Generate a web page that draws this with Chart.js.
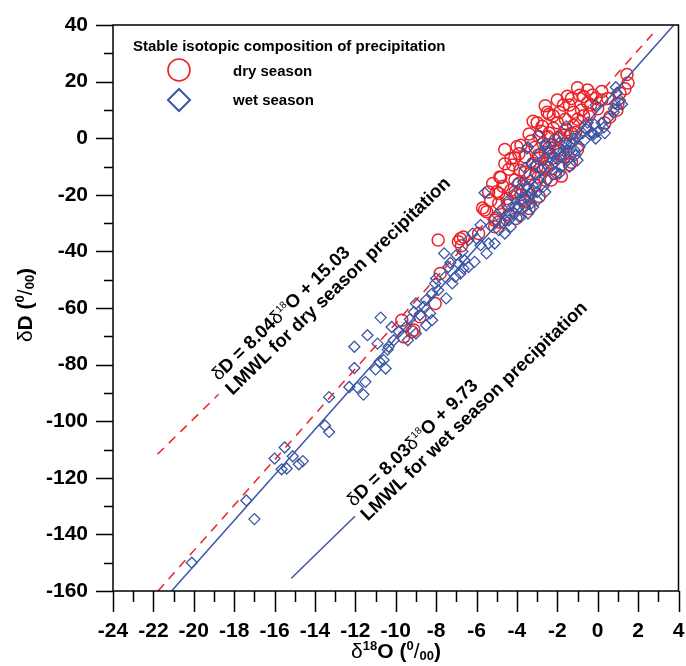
<!DOCTYPE html>
<html><head><meta charset="utf-8">
<script src="https://cdn.jsdelivr.net/npm/chart.js@4.4.1/dist/chart.umd.min.js"></script>
<style>html,body{margin:0;padding:0;background:#fff}#wrap{width:686px;height:666px;position:relative}</style>
</head><body><div id="wrap"><canvas id="c"></canvas></div>
<script>
const xTicks = [-24,-22,-20,-18,-16,-14,-12,-10,-8,-6,-4,-2,0,2,4];
const yTicks = [-160,-140,-120,-100,-80,-60,-40,-20,0,20,40];

const wetO = [-20.1,-17.4,-17.0,-15.5,-16.0,-15.65,-15.4,-15.1,-14.8,-14.6,-13.3,-13.5,-13.3,-12.05,-12.05,-12.3,-11.9,-11.6,-11.5,-11.4,-10.75,-10.9,-10.8,-11.0,-10.5,-10.6,-10.4,
 -10.2,-10.35,-10.1,-9.85,-9.5,-9.4,-9.0,-9.0,-9.1,-8.8,-8.5,-8.3,-8.2,-8.5,-8.2,-7.9,-8.05,-8.0,-7.55,-7.4,-7.6,-7.5,-7.2,-7.05,-6.8,-6.65,-6.9,-6.6,-7.0,-6.4,-6.1,-6.4,-6.2,-5.8,-5.8,-5.5,-5.4,-5.1,-4.9,-4.7,-4.4,-4.1,-3.9,-3.8,-3.6,-3.3,-3.2,-3.45,-3.9,-4.3,-4.6,-5.6,
 -3.5,-2.95,-0.3,-0.65,-0.9,-1.15,-1.5,-1.8,-2.1,-2.5,-2.7,-3.0,-3.45,-4.1,-4.35,-4.6,-3.6,-3.3,-3.8,-3.2,-3.35,-3.1,-2.8,-2.45,-2.1,-1.8,-1.55,-1.3,-1.0,-2.4,-2.9,-2.6,-1.95,-1.9,-1.4,-1.0,
 0.95,1.1,0.85,0.8,-0.1,-0.15,0.2,0.0,-0.25,0.35,-0.1,-0.6,-0.75,-1.55,-1.2,-1.55,-1.4,-1.7,-2.05,-2.4,-2.6,-3.1,-3.45,-0.2,0.3,0.8,
 -4.0,-3.7,-3.5,-4.2,-3.9,-2.9,-3.0,-2.6,-4.5,-3.6,-3.3,-2.7,-2.3,-5.0,-5.3,-4.8,-6.0,-6.7,-7.3,-8.6,-9.3,-0.5,0.5,1.2,0.9,-1.9,-2.3,-1.1];
const wetD = [-150,-128,-134.6,-109.3,-113.2,-117,-116.7,-112.4,-115.2,-114.1,-91.5,-101.5,-103.8,-73.7,-81.2,-87.9,-88.1,-90.6,-86.1,-69.6,-63.4,-72.6,-79,-81.7,-81.4,-78.4,-74.7,
 -66.7,-73.7,-71.4,-68.4,-66.7,-71.4,-69,-58.4,-61.4,-62.5,-66.1,-61.9,-64.3,-57.2,-54.9,-53.7,-51.3,-49.6,-49,-45.5,-40.7,-56.6,-51.3,-49,-47.8,-46,-44.3,-43.1,-41.3,-45.5,-43.7,-36,-33.7,-30.7,-37.8,-40.7,-37.2,-37.2,-32.5,-30.1,-29,-26.6,-24.3,-21.9,-20.7,-19.5,-24.3,-26.6,-27.8,-31.3,-33.7,-19.3,
 -3.6,1.1,1.7,-0.7,-3.1,-4.2,-7.8,-10.1,-12.5,-14.8,-17.2,-19,-20.7,-24.3,-26.6,-29,-24.3,-23.1,-27.8,-18.4,-14.8,-12.5,-11.3,-10.1,-8.4,-6.6,-4.2,-1.9,0.5,-4.2,-5.4,-1.9,0.5,-12.5,-10.1,-7.8,
 16,13.4,12.3,9.2,11.7,4.8,5.4,2.3,1.8,1.8,-0.1,3.5,1.8,4.2,-0.1,-2,-4.5,-4.5,-7,-4.5,-2.6,-9.4,-3.2,1.4,3.8,10.4,
 -16,-15.5,-17,-20,-18,-15,-22,-19,-22.5,-10.5,-9,-7.5,-5.5,-27,-31,-25.5,-35.5,-40,-44,-59.5,-64,5.5,7,12,18,-1.5,-2,-6];

const dryO = [-7.8,-8.05,-8.8,-9.7,-9.1,-9.6,-9.2,-4.9,-4.5,-4.1,-3.6,-5.5,-4.9,-5.1,-5.9,-6.65,-6.9,-4.3,-3.6,-4.85,-5.4,-5.6,-5.1,-4.45,-4.1,-4.3,-3.85,-3.2,-2.95,-2.6,-2.6,-2.3,-2.45,-2.7,-2.1,-1.65,-1.3,-1.95,-1.65,-3.45,-3.6,-3.35,-2.1,-2.95,
 1.45,1.5,1.35,-1.0,-0.7,-0.25,-0.1,-1.7,-2.4,-2.2,-1.9,-1.4,-1.2,-1.6,-1.0,-0.7,-0.35,0.0,1.0,0.95,0.35,-2.75,-2.4,-2.9,-3.1,-1.9,-1.55,-2.4,-1.4,-1.9,-2.9,-2.5,-0.9,-4.1,-4.8,-5.0,-6.8,-1.3,-1.8,-2.9,-3.4,-4.05,-5.05,-7.9,-6.75,-5.7,
 -3.4,-3.0,-3.8,-2.2,-1.2,-0.5,-0.8,0.2,0.6,-3.6,-4.4,-2.6,-3.0,-5.3,-4.7,-3.9,-4.2,-2.3,-1.0,-2.0,-1.5,
 -4.6,-4.0,-3.3,-2.8,-2.0,-1.1,-0.4,0.5,0.2,-0.5,-1.3,-2.6,-3.2,-3.9,-4.6,-5.2,-4.9,-3.1,-2.2,-1.6,-0.6,1.1,-4.4,-3.8,-2.7];
const dryD = [-47.8,-58.4,-63.1,-64.3,-67.8,-70.2,-68.4,-19.5,-21.3,-19,-22.5,-26,-29.6,-31.3,-33.7,-34.9,-36.6,-7.2,-6.6,-13.7,-19,-25.4,-29,-23.7,-14.8,-18.4,-11.3,-8.9,-6,-10.1,-14.8,-14.8,0.5,-1.9,-0.7,1.1,1.7,-4.2,-6.6,-18.4,-21.9,-12.5,-12.5,-13.7,
 22.5,19.5,17.5,17.8,14.7,15.3,14.1,11.7,8.5,7.9,9.2,11.7,9.2,6.7,6.7,7.9,11.7,10.4,12.3,9.9,5.4,4.2,1.8,0.5,-3.2,0.5,3.0,-3.2,-9.4,-5.7,-7.0,9.2,15.2,-6.9,-13.9,-18.9,-35.5,-8.5,-13.4,-20.6,-24.8,-28.4,-28.4,-36,-38,-24.7,
 1.5,5.5,-2.5,3.5,4.5,12.5,10,13.5,7.5,-12,-11,-5,-10,-22,-17,-16,-9.5,-9,-4,13.5,14.8,
 -4,-3,-1,2.5,5.5,2,8.5,14,16.5,17,14,11.5,6,-5.5,-9,-16,-23,-16.5,-7,-2,4,16,-27,-20,-11];

const dryLineO = [-21.77, 2.8];
const dryLineD = [-160, 37.5];
const wetLineO = [-21.1, 3.77];
const wetLineD = [-160, 40];
const dryLeaderO = [-21.8, -18.77];
const dryLeaderD = [-111.7, -90.5];
const wetLeaderO = [-15.17, -12.02];
const wetLeaderD = [-155.5, -133.6];

const RED = '#ec2228';
const BLUE = '#3a56a6';
const SANS = '"Liberation Sans", Arial, sans-serif';

const pts = (xs, ys) => xs.map((x, i) => ({x, y: ys[i]}));

function F(size, bold) { return (bold ? 'bold ' : '') + size + 'px ' + SANS; }
function rich(ctx, parts, x, y, align) {
  let w = 0;
  parts.forEach(p => { ctx.font = p.f; w += ctx.measureText(p.t).width; });
  let cx = align === 'center' ? x - w / 2 : x;
  ctx.textBaseline = 'alphabetic';
  ctx.textAlign = 'left';
  parts.forEach(p => { ctx.font = p.f; ctx.fillText(p.t, cx, y + (p.dy || 0)); cx += ctx.measureText(p.t).width; });
}

const deco = {
  id: 'deco',
  afterDraw(chart) {
    const ctx = chart.ctx, a = chart.chartArea;
    const xs = chart.scales.x, ys = chart.scales.y;
    ctx.save();
    ctx.strokeStyle = '#000';
    ctx.lineWidth = 1.5;
    ctx.strokeRect(a.left, a.top, a.right - a.left, a.bottom - a.top);
    ctx.beginPath();
    for (let v = yTicks[0]; v <= yTicks[yTicks.length - 1]; v += 10) {
      const p = Math.round(ys.getPixelForValue(v)) + 0.5;
      const L = (v % 20 === 0) ? 17 : 9;
      ctx.moveTo(a.left, p); ctx.lineTo(a.left - L, p);
    }
    for (let v = xTicks[0]; v <= xTicks[xTicks.length - 1]; v += 1) {
      const p = Math.round(xs.getPixelForValue(v)) + 0.5;
      const L = (v % 2 === 0) ? 21 : 11;
      ctx.moveTo(p, a.bottom); ctx.lineTo(p, a.bottom + L);
    }
    ctx.stroke();

    // legend
    ctx.fillStyle = '#000';
    ctx.font = F(15, true);
    ctx.textAlign = 'left'; ctx.textBaseline = 'alphabetic';
    ctx.fillText('Stable isotopic composition of precipitation', 133, 51);
    ctx.fillText('dry season', 233, 76);
    ctx.fillText('wet season', 233, 105);
    ctx.lineWidth = 1.6;
    ctx.strokeStyle = RED;
    ctx.beginPath(); ctx.arc(179, 70, 11, 0, Math.PI * 2); ctx.stroke();
    ctx.strokeStyle = BLUE;
    ctx.lineWidth = 2;
    ctx.beginPath(); ctx.moveTo(168, 100); ctx.lineTo(179, 89); ctx.lineTo(190, 100); ctx.lineTo(179, 111); ctx.closePath(); ctx.stroke();

    // annotations
    ctx.fillStyle = '#000';
    const ang = -44 * Math.PI / 180;
    const ann = (ox, oy, eq1, eq2, txt) => {
      ctx.save();
      ctx.translate(xs.getPixelForValue(ox), ys.getPixelForValue(oy));
      ctx.rotate(ang);
      rich(ctx, [
        {t: '\u03B4', f: F(18.5, false)}, {t: 'D = ' + eq1, f: F(18.5, true)},
        {t: '\u03B4', f: F(18.5, false)}, {t: '18', f: F(10, false), dy: -7},
        {t: 'O + ' + eq2, f: F(18.5, true)}], 0, 0, 'left');
      rich(ctx, [{t: txt, f: F(18.5, true)}], 0, 20, 'left');
      ctx.restore();
    };
    ann(-18.77, -85.9, '8.04', '15.03', 'LMWL for dry season precipitation');
    ann(-12.07, -130.4, '8.03', '9.73', 'LMWL for wet season precipitation');

    // axis titles
    rich(ctx, [
      {t: '\u03B4', f: F(21, false)}, {t: '18', f: F(13, true), dy: -8},
      {t: 'O (', f: F(21, true)}, {t: '0', f: F(13, true), dy: -8},
      {t: '/', f: F(21, false)}, {t: '00', f: F(13, true), dy: 2},
      {t: ')', f: F(21, true)}], 396, 658, 'center');
    ctx.save();
    ctx.translate(32, 305);
    ctx.rotate(-Math.PI / 2);
    rich(ctx, [
      {t: '\u03B4', f: F(21, false)}, {t: 'D (', f: F(21, true)},
      {t: '0', f: F(13, true), dy: -8}, {t: '/', f: F(21, false)},
      {t: '00', f: F(13, true), dy: 2}, {t: ')', f: F(21, true)}], 0, 0, 'center');
    ctx.restore();
    ctx.restore();
  }
};

const lineDs = (label, xs, ys, color, dash, order) => ({
  type: 'line', label, data: pts(xs, ys), borderColor: color, borderWidth: 1.5,
  borderDash: dash, pointRadius: 0, fill: false, showLine: true, tension: 0, order
});

new Chart(document.getElementById('c'), {
  type: 'scatter',
  data: {
    datasets: [
      lineDs('wet LMWL', wetLineO, wetLineD, BLUE, [], 0),
      lineDs('dry LMWL', dryLineO, dryLineD, RED, [9, 7], 1),
      {label: 'wet season', data: pts(wetO, wetD), pointStyle: 'rectRot', pointRadius: 5.5,
        borderColor: BLUE, backgroundColor: 'rgba(0,0,0,0)', pointBorderWidth: 1.3, order: 2},
      {label: 'dry season', data: pts(dryO, dryD), pointStyle: 'circle', pointRadius: 6,
        borderColor: RED, backgroundColor: 'rgba(0,0,0,0)', pointBorderWidth: 1.5, order: 3},
      lineDs('dry label leader', dryLeaderO, dryLeaderD, RED, [9, 7], 4),
      lineDs('wet label leader', wetLeaderO, wetLeaderD, BLUE, [], 5)
    ]
  },
  options: {
    responsive: true, maintainAspectRatio: false, animation: false,
    events: [],
    layout: {padding: {top: 25, right: 2, left: 0, bottom: 0}},
    plugins: {legend: {display: false}, tooltip: {enabled: false}},
    scales: {
      x: {
        type: 'linear', min: -24, max: 4,
        afterBuildTicks: s => { s.ticks = xTicks.map(v => ({value: v})); },
        afterFit: s => { s.height = 75; s.paddingLeft = 0; s.paddingRight = 0; },
        grid: {display: true, drawOnChartArea: false, color: 'rgba(0,0,0,0)', tickLength: 21},
        border: {display: false},
        ticks: {color: '#000', font: {family: SANS, size: 21, weight: 'bold'}, padding: 7, maxRotation: 0, autoSkip: false}
      },
      y: {
        type: 'linear', min: -160, max: 40,
        afterBuildTicks: s => { s.ticks = yTicks.map(v => ({value: v})); },
        afterFit: s => { s.width = 113; s.paddingTop = 0; s.paddingBottom = 0; },
        grid: {display: true, drawOnChartArea: false, color: 'rgba(0,0,0,0)', tickLength: 17},
        border: {display: false},
        ticks: {color: '#000', font: {family: SANS, size: 21, weight: 'bold'}, padding: 8, autoSkip: false}
      }
    }
  },
  plugins: [deco]
});
</script></body></html>
